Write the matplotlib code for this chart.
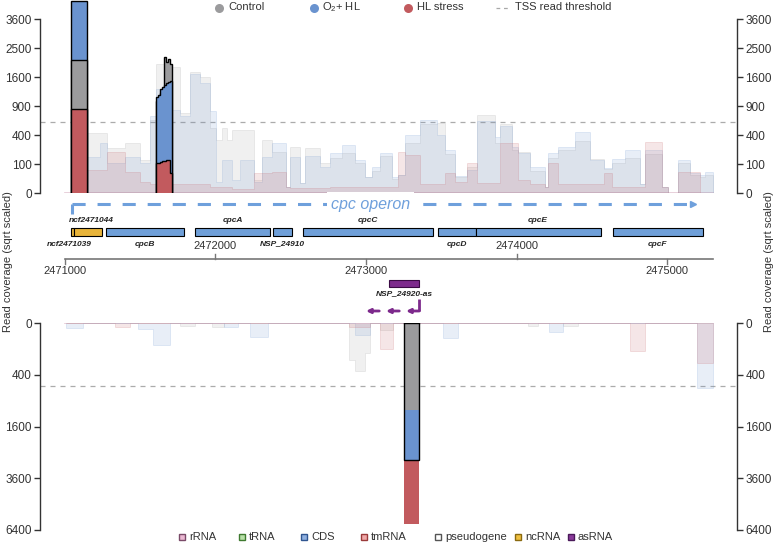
import numpy as np
import matplotlib.pyplot as plt

plt.rcParams["font.family"] = ["Liberation Sans", "DejaVu Sans"]
plt.rcParams["mathtext.default"] = "regular"

# genomic window shown
x_min, x_max = 2470834, 2475465
axis_start, axis_end = 2471000, 2475306
tick_pos = [2471000, 2472000, 2473000, 2474000, 2475000]
threshold = 600

# forward strand coverage (background, step profiles)
fwd_edges = [2471146, 2471233, 2471279, 2471399, 2471498, 2471565, 2471605, 2471711,
             2471764, 2471831, 2471897, 2471964, 2472003, 2472043, 2472076, 2472110,
             2472163, 2472256, 2472309, 2472376, 2472469, 2472495, 2472562, 2472595,
             2472694, 2472761, 2472841, 2472927, 2472994, 2473040, 2473093, 2473173,
             2473213, 2473259, 2473359, 2473472, 2473525, 2473592, 2473671, 2473738,
             2473857, 2473891, 2473970, 2474010, 2474090, 2474190, 2474210, 2474276,
             2474389, 2474489, 2474582, 2474635, 2474721, 2474821, 2474854, 2474967,
             2475007, 2475073, 2475153, 2475220, 2475253, 2475306]
fwd_o2hl = [156, 300, 110, 155, 110, 700, 1300, 830, 700, 1700, 1450, 800, 15, 130, 130, 20,
            130, 15, 155, 300, 5, 155, 12, 160, 80, 190, 280, 130, 30, 80, 190, 30,
            40, 400, 640, 400, 220, 35, 65, 620, 380, 530, 255, 190, 80, 4,
            190, 255, 450, 130, 75, 140, 220, 10, 220, 5, 0, 130, 50, 40, 55]
fwd_control = [430, 430, 245, 300, 130, 640, 2000, 1900, 770, 1750, 1600, 500, 340, 510, 340, 480,
               480, 20, 340, 200, 5, 255, 12, 245, 110, 150, 190, 110, 30, 60, 160, 25,
               40, 300, 560, 590, 180, 30, 80, 730, 300, 560, 220, 200, 60, 4,
               150, 220, 320, 140, 70, 110, 150, 10, 180, 5, 0, 110, 40, 30, 40]
fwd_hl = [64, 64, 200, 55, 15, 10, 110, 10, 10, 10, 10, 5, 5, 5, 5, 2,
          2, 48, 48, 53, 5, 3, 3, 3, 3, 5, 5, 5, 5, 5, 5, 5,
          200, 175, 10, 10, 48, 15, 110, 12, 12, 300, 300, 20, 10, 4,
          110, 10, 10, 10, 50, 5, 5, 5, 310, 5, 0, 55, 55, 0, 0]

# TSS peaks above threshold, forward strand
peak1_edges = [2471040, 2471146]
peak1_control = [2100]
peak1_o2hl = [4420]
peak1_hl = [850]

peak2_edges = [2471605, 2471618, 2471631, 2471645, 2471658, 2471671, 2471685, 2471698, 2471711]
peak2_control = [1000, 1050, 1200, 1300, 2200, 2050, 2150, 2000]
peak2_o2hl = [1100, 1150, 1300, 1350, 1400, 1450, 1480, 1500]
peak2_hl = [108, 110, 115, 120, 125, 130, 128, 50]

# reverse strand coverage (background)
rev_edges = [2471007, 2471120, 2471332, 2471432, 2471485, 2471585, 2471698, 2471764,
             2471864, 2471977, 2472057, 2472150, 2472229, 2472349, 2472887, 2472927,
             2472994, 2473027, 2473093, 2473180, 2473512, 2473611, 2474077, 2474143,
             2474216, 2474309, 2474409, 2474754, 2474854, 2475200, 2475306]
rev_o2hl = [4, 0, 0, 0, 6, 72, 0, 0, 0, 0, 3, 0, 28, 0, 0, 21, 21, 0, 0, 0, 35, 0, 0, 0, 11, 0, 0, 0, 0, 630]
rev_control = [0, 0, 0, 0, 0, 0, 0, 1, 0, 2, 0, 0, 0, 0, 200, 350, 130, 0, 7, 0, 0, 0, 1, 0, 0, 1, 0, 0, 0, 0]
rev_hl = [0, 0, 2, 0, 0, 0, 0, 0, 0, 0, 0, 0, 0, 0, 2, 2, 2, 0, 102, 0, 0, 0, 0, 0, 0, 0, 0, 113, 0, 240]

peak3_edges = [2473253, 2473354]
peak3_control = [1120]
peak3_o2hl = [2800]
peak3_hl = [6035]

# annotation
gene_names = ["ncf2471044", "ncf2471039", "cpcB", "cpcA", "NSP_24910", "cpcC", "cpcD", "cpcE", "cpcF"]
gene_start = [2471040, 2471058, 2471270, 2471866, 2472384, 2472579, 2473481, 2473729, 2474639]
gene_end = [2471058, 2471246, 2471791, 2472360, 2472508, 2473443, 2473729, 2474559, 2475237]
gene_type = ["ncRNA", "ncRNA", "CDS", "CDS", "CDS", "CDS", "CDS", "CDS", "CDS"]
gene_label_side = ["above", "below", "below", "above", "below", "above", "below", "above", "below"]
gene_label_x = [2471173, 2471030, None, None, None, None, None, None, None]

as_name = "NSP_24920-as"
as_start, as_end = 2473153, 2473354
operon_start, operon_end = 2471047, 2475173

type_names = ["rRNA", "tRNA", "CDS", "tmRNA", "pseudogene", "ncRNA", "asRNA"]
type_face = ["#eab8d2", "#b8e0a8", "#8fb0e0", "#f0a8a8", "#ffffff", "#f0c040", "#8a3a9a"]
type_edge = ["#7a4a68", "#3f7a30", "#2f5590", "#9a3a3a", "#555555", "#8a6a10", "#4a1a5a"]
box_color = {"CDS": "#6f9fd8", "ncRNA": "#e8b43a", "asRNA": "#7d2a8c"}

c_control = "#9b9b9d"
c_o2hl = "#6a93cf"
c_hl = "#c25a5e"

W, H = 777, 544
fig = plt.figure(figsize=(W / 100, H / 100), dpi=100)


def fwd(v):
    return np.sqrt(np.clip(v, 0, None))


def inv(v):
    return np.square(v)


def style_cov_axis(ax, ticks, top):
    ax.set_yscale("function", functions=(fwd, inv))
    ax.set_xlim(x_min, x_max)
    ax.set_yticks(ticks)
    ax.set_yticklabels([str(t) for t in ticks])
    ax.set_xticks([])
    for s in ["top", "bottom"]:
        ax.spines[s].set_visible(False)
    for s in ["left", "right"]:
        ax.spines[s].set_bounds(0, top)
        ax.spines[s].set_color("#333333")
        ax.spines[s].set_linewidth(1)
    ax.tick_params(axis="y", left=True, right=True, labelleft=True, labelright=True,
                   length=4, width=1, colors="#333333", labelsize=8.5, pad=2)
    ax.patch.set_visible(False)
    ax.axhline(threshold, color="#ababab", lw=0.9, ls=(0, (4, 4)), zorder=1)
    ax.plot([axis_start, axis_end], [0, 0], color="#e4c8d4", lw=1.2, zorder=1)


def background(ax, edges, control, o2hl, hl):
    for vals, c in [(control, c_control), (o2hl, c_o2hl), (hl, c_hl)]:
        rgb = plt.matplotlib.colors.to_rgb(c)
        ax.stairs(vals, edges, fill=True, facecolor=(*rgb, 0.15),
                  edgecolor=(*rgb, 0.2), lw=0.6, zorder=2)


def peak(ax, edges, series):
    for vals, c in sorted(series, key=lambda s: -max(s[0])):
        ax.stairs(vals, edges, fill=True, facecolor=c, edgecolor="black", lw=1, zorder=3)


# top panel: forward strand
ax_top = fig.add_axes([40 / W, 1 - 193 / H, 697 / W, 193 / H])
style_cov_axis(ax_top, [0, 100, 400, 900, 1600, 2500, 3600], 3600)
ax_top.set_ylim(0, 4444)
background(ax_top, fwd_edges, fwd_control, fwd_o2hl, fwd_hl)
peak(ax_top, peak1_edges, [(peak1_control, c_control), (peak1_o2hl, c_o2hl), (peak1_hl, c_hl)])
peak(ax_top, peak2_edges, [(peak2_control, c_control), (peak2_o2hl, c_o2hl), (peak2_hl, c_hl)])

# bottom panel: reverse strand
ax_bot = fig.add_axes([40 / W, 14 / H, 697 / W, 207 / H])
style_cov_axis(ax_bot, [0, 400, 1600, 3600, 6400], 6400)
ax_bot.set_ylim(6400, 0)
background(ax_bot, rev_edges, rev_control, rev_o2hl, rev_hl)
ax_bot.stairs(peak3_hl, peak3_edges, fill=True, facecolor=c_hl, lw=0, zorder=3)
ax_bot.stairs(peak3_o2hl, peak3_edges, fill=True, facecolor=c_o2hl, lw=0, zorder=3)
ax_bot.stairs(peak3_control, peak3_edges, fill=True, facecolor=c_control, lw=0, zorder=3)
ax_bot.stairs(peak3_o2hl, peak3_edges, fill=False, edgecolor="black", lw=1, zorder=4)
ax_bot.plot([peak3_edges[0], peak3_edges[-1]], [0, 0], color="black", lw=1, zorder=4)

# middle: annotation track (x = genome, y = pixel rows)
ax_mid = fig.add_axes([40 / W, 0, 697 / W, 1])
ax_mid.set_xlim(x_min, x_max)
ax_mid.set_ylim(H, 0)
ax_mid.axis("off")

for name, s, e, t, side, lx in zip(gene_names, gene_start, gene_end, gene_type,
                                    gene_label_side, gene_label_x):
    ax_mid.add_patch(plt.Rectangle((s, 228), e - s, 8, facecolor=box_color[t],
                                   edgecolor="black", lw=0.8))
    if lx is None:
        lx = (s + e) / 2
    ly = 221 if side == "above" else 244
    ax_mid.text(lx, ly, name, ha="center", va="center", fontsize=6,
                fontweight="bold", fontstyle="italic", color="#222222")

# genome coordinate axis
ax_mid.plot([axis_start, axis_end], [259, 259], color="#777777", lw=1.2)
for i, t in enumerate(tick_pos):
    if i % 2 == 0:
        ax_mid.plot([t, t], [259, 264], color="#777777", lw=1)
        ax_mid.text(t, 271, str(t), ha="center", va="center", fontsize=8, color="#333333")
    else:
        ax_mid.plot([t, t], [254, 259], color="#777777", lw=1)
        ax_mid.text(t, 246, str(t), ha="center", va="center", fontsize=8, color="#333333")

# operon arrow
op_col = "#6fa0dc"
ax_mid.plot([operon_start, operon_start], [214, 204], color=op_col, lw=2.2, solid_capstyle="butt")
ax_mid.plot([operon_start, operon_end], [204, 204], color=op_col, lw=2.2,
            ls=(0, (4.3, 3.9)), dash_capstyle="butt")
ax_mid.plot(operon_end, 204, marker=">", ms=4.5, color=op_col)
ax_mid.text((operon_start + operon_end) / 2 - 80, 204, "cpc operon", ha="center", va="center",
            fontsize=11.5, fontstyle="italic", color=op_col,
            bbox=dict(facecolor="white", edgecolor="none", pad=3))

# antisense RNA
as_col = box_color["asRNA"]
ax_mid.add_patch(plt.Rectangle((as_start, 280), as_end - as_start, 7, facecolor=as_col,
                               edgecolor="#3a0a44", lw=0.8))
ax_mid.text((as_start + as_end) / 2, 294, as_name, ha="center", va="center", fontsize=6,
            fontweight="bold", fontstyle="italic", color="#222222")
ax_mid.plot([as_end, as_end], [299, 311], color=as_col, lw=2, solid_capstyle="butt")
for k in range(3):
    x0 = as_end - k * 133
    ax_mid.annotate("", xy=(x0 - 88, 311), xytext=(x0, 311),
                    arrowprops=dict(arrowstyle="-|>", color=as_col, lw=2,
                                    mutation_scale=6, shrinkA=0, shrinkB=0))

# legends and axis titles (pixel coordinates)
ax_fig = fig.add_axes([0, 0, 1, 1])
ax_fig.set_xlim(0, W)
ax_fig.set_ylim(H, 0)
ax_fig.axis("off")

top_labels = ["Control", "O$_2$+ HL", "HL stress"]
top_cols = [c_control, c_o2hl, c_hl]
for i, (lab, c) in enumerate(zip(top_labels, top_cols)):
    mx = 219 + i * 94.5
    ax_fig.plot(mx, 7.5, marker="o", ms=6.5, color=c, mec="none")
    ax_fig.text(mx + 9, 7, lab, ha="left", va="center", fontsize=8, color="#333333")
ax_fig.plot([496, 509], [7.5, 7.5], color="#a8a8a8", lw=0.9, ls=(0, (3, 3)))
ax_fig.text(515, 7, "TSS read threshold", ha="left", va="center", fontsize=8, color="#333333")

leg_x = [182, 242, 304, 364, 438, 518, 571]
for mx, lab, fc, ec in zip(leg_x, type_names, type_face, type_edge):
    ax_fig.plot(mx, 537, marker="s", ms=4.5, mfc=fc, mec=ec, mew=1)
    ax_fig.text(mx + 7, 537, lab, ha="left", va="center", fontsize=8, color="#333333")

for x in [8, 769]:
    ax_fig.text(x, 262, "Read coverage (sqrt scaled)", rotation=90, ha="center", va="center",
                fontsize=8, color="#333333")

fig.savefig("out.png", dpi=100)
